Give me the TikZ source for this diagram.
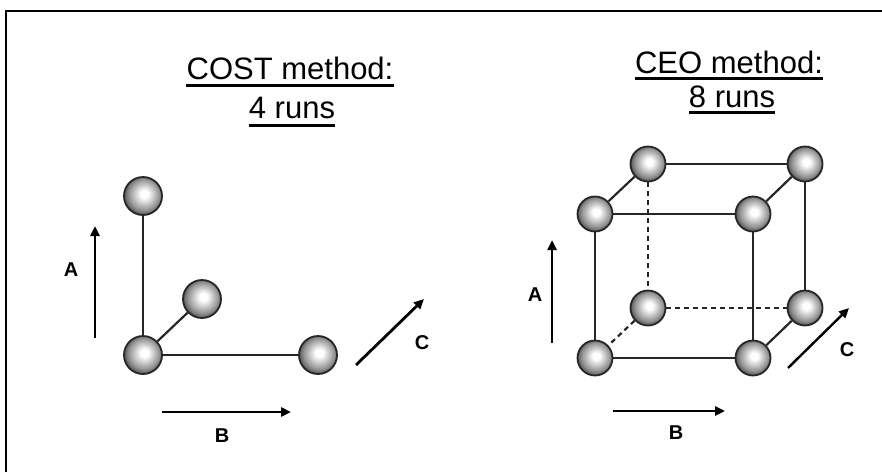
\documentclass[tikz,border=0pt]{standalone}
\usepackage{fontspec}
\setmainfont{Liberation Sans}
\usetikzlibrary{arrows.meta}

% glossy sphere used for every run
\pgfdeclareradialshading{orb}{\pgfpoint{2bp}{3bp}}{%
  color(0bp)=(white); color(5bp)=(white); color(20bp)=(black!42);
  color(26bp)=(black!65); color(50bp)=(black!65)}

\tikzset{
  run/.style={circle, draw=black!85, line width=1.8pt, shading=orb,
              minimum size=#1, inner sep=0pt},
  run/.default=37pt,
  edge/.style={line width=2.2pt, draw=black!85},
  hidden/.style={edge, dash pattern=on 5pt off 4pt},
  axis/.style={line width=2.8pt, -{Triangle[length=10pt,width=9pt]}},
  axislabel/.style={font=\bfseries\fontsize{20}{20}\selectfont, inner sep=0pt},
  title/.style={font=\fontsize{31}{31}\selectfont, inner sep=0pt, anchor=base},
  uline/.style={line width=3pt}
}

\begin{document}
\begin{tikzpicture}[x=1pt, y=-1pt]
\useasboundingbox (0,0) rectangle (882,472);

% frame, open to the right and bottom
\coordinate (fb) at (6,472);
\coordinate (fc) at (6,11);
\coordinate (fr) at (882,11);
\draw[line width=2.6pt] (fb) -- (fc) -- (fr);

% ---------- COST method ----------
\node[title] (t1) at (290,79) {COST method:};
\node[title] (t2) at (292,118) {4 runs};
\draw[uline] ([yshift=-6pt]t1.base west) -- ([yshift=-6pt]t1.base east);
\draw[uline] ([yshift=-7pt]t2.base west) -- ([yshift=-7pt]t2.base east);

\node[run=38pt] (ca) at (143,196) {};
\node[run=38pt] (cc) at (202,299) {};
\node[run=38pt] (co) at (143,355) {};
\node[run=38pt] (cb) at (318,355) {};
\draw[edge] (co) -- (ca);
\draw[edge] (co) -- (cc);
\draw[edge] (co) -- (cb);

\coordinate (lA0) at (95,338);  \coordinate (lA1) at (95,226);
\coordinate (lB0) at (162,412); \coordinate (lB1) at (291,412);
\coordinate (lC0) at (356,365); \coordinate (lC1) at (424,299);
\draw[axis] (lA0) -- (lA1);
\draw[axis] (lB0) -- (lB1);
\draw[axis] (lC0) -- (lC1);
\node[axislabel] (lA) at (71,270) {A};
\node[axislabel] (lB) at (222,436) {B};
\node[axislabel] (lC) at (422,343) {C};

% ---------- CEO method ----------
\node[title] (t3) at (729,73) {CEO method:};
\node[title] (t4) at (732,107) {8 runs};
\draw[uline] ([yshift=-5pt]t3.base west) -- ([yshift=-5pt]t3.base east);
\draw[uline] ([yshift=-5pt]t4.base west) -- ([yshift=-5pt]t4.base east);

\node[run=35pt] (btl) at (648,164) {};
\node[run=35pt] (btr) at (805,164) {};
\node[run=35pt] (ftl) at (595,214) {};
\node[run=35pt] (ftr) at (753,214) {};
\node[run=35pt] (bbl) at (648,308) {};
\node[run=35pt] (bbr) at (805,308) {};
\node[run=35pt] (fbl) at (595,358) {};
\node[run=35pt] (fbr) at (753,358) {};

\draw[edge] (ftl) -- (ftr);
\draw[edge] (ftl) -- (fbl);
\draw[edge] (ftr) -- (fbr);
\draw[edge] (fbl) -- (fbr);
\draw[edge] (btl) -- (btr);
\draw[edge] (ftl) -- (btl);
\draw[edge] (ftr) -- (btr);
\draw[edge] (btr) -- (bbr);
\draw[edge] (fbr) -- (bbr);
\draw[hidden] (btl) -- (bbl);
\draw[hidden] (bbl) -- (bbr);
\draw[hidden] (bbl) -- (fbl);

\coordinate (rA0) at (552,343); \coordinate (rA1) at (552,240);
\coordinate (rB0) at (613,411); \coordinate (rB1) at (725,411);
\coordinate (rC0) at (788,368); \coordinate (rC1) at (849,308);
\draw[axis, line width=2.4pt] (rA0) -- (rA1);
\draw[axis, line width=2.4pt] (rB0) -- (rB1);
\draw[axis, line width=2.4pt] (rC0) -- (rC1);
\node[axislabel] (rA) at (535,295) {A};
\node[axislabel] (rB) at (676,433) {B};
\node[axislabel] (rC) at (847,350) {C};
\end{tikzpicture}
\end{document}
